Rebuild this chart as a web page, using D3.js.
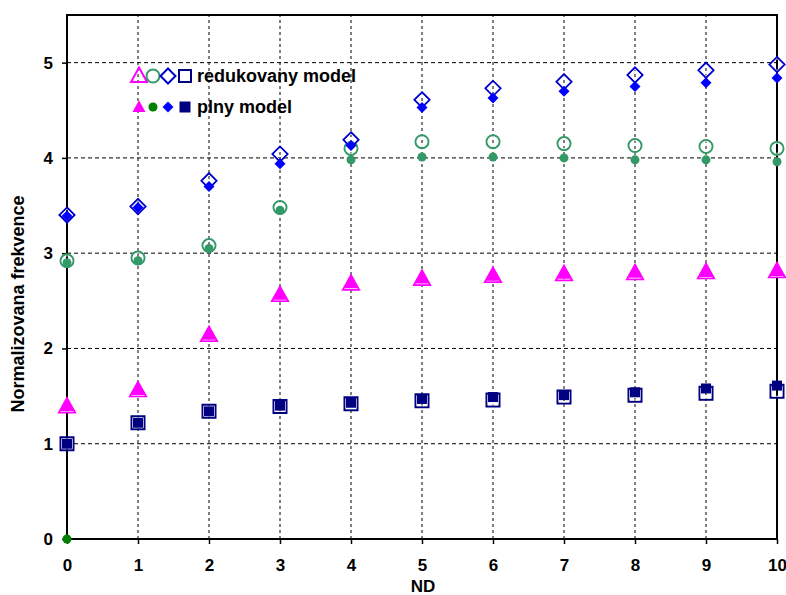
<!DOCTYPE html>
<html>
<head>
<meta charset="utf-8">
<script src="https://cdn.jsdelivr.net/npm/d3@7"></script>
<style>
  body { margin: 0; background: #fff; }
  text { font-family: "Liberation Sans", Arial, sans-serif; font-weight: bold; }
</style>
</head>
<body>
<script>
// ND values on the x axis
const nd = [0, 1, 2, 3, 4, 5, 6, 7, 8, 9, 10];

// reduced model (open markers)
const redTriangle = [1.39, 1.56, 2.14, 2.56, 2.68, 2.73, 2.76, 2.78, 2.79, 2.80, 2.81];
const redCircle   = [2.92, 2.95, 3.08, 3.48, 4.10, 4.17, 4.17, 4.15, 4.13, 4.12, 4.10];
const redDiamond  = [3.40, 3.49, 3.76, 4.04, 4.19, 4.61, 4.73, 4.80, 4.87, 4.92, 4.98];
const redSquare   = [1.00, 1.22, 1.34, 1.39, 1.42, 1.45, 1.46, 1.49, 1.51, 1.53, 1.55];

// full model (filled markers)
const fullTriangle = [1.40, 1.57, 2.15, 2.57, 2.69, 2.74, 2.77, 2.79, 2.80, 2.81, 2.82];
const fullCircle   = [2.90, 2.92, 3.05, 3.45, 3.98, 4.01, 4.01, 4.00, 3.98, 3.98, 3.96];
const fullDiamond  = [3.39, 3.48, 3.70, 3.94, 4.13, 4.53, 4.63, 4.70, 4.75, 4.79, 4.84];
const fullSquare   = [1.00, 1.22, 1.34, 1.40, 1.43, 1.47, 1.49, 1.51, 1.54, 1.58, 1.61];

// lone point at the origin
const originPoint = [{ x: 0, y: 0 }];

const xTicks = [0, 1, 2, 3, 4, 5, 6, 7, 8, 9, 10];
const yTicks = [0, 1, 2, 3, 4, 5];

const width = 786, height = 595;
const margin = { top: 15, left: 67, right: 9, bottom: 56 };

const svg = d3.select('body').append('svg')
    .attr('width', width)
    .attr('height', height);

const x = d3.scaleLinear().domain([0, 10]).range([margin.left, width - margin.right]);
const y = d3.scaleLinear().domain([0, 5.5]).range([height - margin.bottom, margin.top]);

// grid
svg.append('g').selectAll('line')
    .data(yTicks.filter(d => d > 0))
    .enter().append('line')
    .attr('x1', x(0)).attr('x2', x(10))
    .attr('y1', d => y(d)).attr('y2', d => y(d))
    .attr('stroke', '#000').attr('stroke-width', 1)
    .attr('stroke-dasharray', '4,3');

svg.append('g').selectAll('line')
    .data(xTicks.filter(d => d > 0 && d < 10))
    .enter().append('line')
    .attr('y1', y(0)).attr('y2', y(5.5))
    .attr('x1', d => x(d)).attr('x2', d => x(d))
    .attr('stroke', '#000').attr('stroke-width', 1)
    .attr('stroke-dasharray', '3,3');

// axes
const xAxis = svg.append('g')
    .attr('transform', `translate(0,${y(0)})`)
    .call(d3.axisBottom(x).tickValues(xTicks).tickFormat(d3.format('d')).tickSize(5).tickPadding(15));
const yAxis = svg.append('g')
    .attr('transform', `translate(${x(0)},0)`)
    .call(d3.axisLeft(y).tickValues(yTicks).tickFormat(d3.format('d')).tickSize(5).tickPadding(9));

[xAxis, yAxis].forEach(ax => {
    ax.select('.domain').remove();
    ax.selectAll('line').attr('stroke', '#000').attr('stroke-width', 1.5);
    ax.selectAll('text')
        .attr('fill', '#000')
        .style('font-size', '17px')
        .style('font-family', '"Liberation Sans", Arial, sans-serif')
        .style('font-weight', 'bold');
});

// frame
svg.append('rect')
    .attr('x', x(0)).attr('y', y(5.5))
    .attr('width', x(10) - x(0)).attr('height', y(0) - y(5.5))
    .attr('fill', 'none').attr('stroke', '#000').attr('stroke-width', 2);

// axis titles
svg.append('text')
    .attr('x', (x(0) + x(10)) / 2 + 1).attr('y', 592)
    .attr('text-anchor', 'middle')
    .style('font-size', '17px')
    .text('ND');

svg.append('text')
    .attr('transform', 'translate(24,304) rotate(-90)')
    .attr('text-anchor', 'middle')
    .style('font-size', '18px')
    .text('Normalizovana frekvence');

// marker shapes, r = half size
const shapes = {
    square: r => `M${-r},${-r}h${2 * r}v${2 * r}h${-2 * r}Z`,
    diamond: r => `M0,${-r}L${r},0L0,${r}L${-r},0Z`,
    triangle: r => `M0,${-r * 1.05}L${r},${r * 0.75}L${-r},${r * 0.75}Z`,
    circle: r => `M${r},0A${r},${r} 0 1,1 ${-r},0A${r},${r} 0 1,1 ${r},0Z`
};

function drawOpen(g, shape, r, color) {
    g.append('path').attr('d', shapes[shape](r))
        .attr('fill', 'none').attr('stroke', color).attr('stroke-width', 2);
    g.append('path').attr('d', shapes[shape](r - 1.6))
        .attr('fill', 'none').attr('stroke', '#fff').attr('stroke-width', 0.8);
}

function drawFilled(g, shape, r, color) {
    g.append('path').attr('d', shapes[shape](r)).attr('fill', color);
}

const openSeries = [
    { values: redSquare, shape: 'square', r: 6.5, color: '#000080' },
    { values: redTriangle, shape: 'triangle', r: 8, color: '#ff00ff' },
    { values: redCircle, shape: 'circle', r: 6.5, color: '#339966' },
    { values: redDiamond, shape: 'diamond', r: 7.5, color: '#0000cc' }
];
const filledSeries = [
    { values: fullSquare, shape: 'square', r: 5, color: '#000080' },
    { values: fullTriangle, shape: 'triangle', r: 7.5, color: '#ff00ff' },
    { values: fullCircle, shape: 'circle', r: 4.5, color: '#339966' },
    { values: fullDiamond, shape: 'diamond', r: 5.5, color: '#0000ff' }
];

openSeries.forEach(s => {
    svg.append('g').selectAll('g')
        .data(nd.map((n, i) => ({ x: n, y: s.values[i] })))
        .enter().append('g')
        .attr('transform', d => `translate(${x(d.x)},${y(d.y)})`)
        .each(function () { drawOpen(d3.select(this), s.shape, s.r, s.color); });
});

filledSeries.forEach(s => {
    svg.append('g').selectAll('g')
        .data(nd.map((n, i) => ({ x: n, y: s.values[i] })))
        .enter().append('g')
        .attr('transform', d => `translate(${x(d.x)},${y(d.y)})`)
        .each(function () { drawFilled(d3.select(this), s.shape, s.r, s.color); });
});

svg.append('g').selectAll('circle')
    .data(originPoint)
    .enter().append('circle')
    .attr('cx', d => x(d.x)).attr('cy', d => y(d.y))
    .attr('r', 4.5).attr('fill', '#008000');

// legend
const legend = svg.append('g');
const legOpen = [
    { shape: 'triangle', r: 8, color: '#ff00ff', cx: 139 },
    { shape: 'circle', r: 6.5, color: '#339966', cx: 153 },
    { shape: 'diamond', r: 7.5, color: '#0000cc', cx: 168 },
    { shape: 'square', r: 6, color: '#000080', cx: 185 }
];
const legFilled = [
    { shape: 'triangle', r: 6.5, color: '#ff00ff', cx: 139 },
    { shape: 'circle', r: 4.5, color: '#008000', cx: 153 },
    { shape: 'diamond', r: 5.5, color: '#0000ff', cx: 168 },
    { shape: 'square', r: 5.5, color: '#000080', cx: 185 }
];
legOpen.forEach(m => {
    const g = legend.append('g').attr('transform', `translate(${m.cx},76)`);
    g.append('path').attr('d', shapes[m.shape](m.r))
        .attr('fill', 'none').attr('stroke', m.color).attr('stroke-width', 2);
});
legFilled.forEach(m => {
    const g = legend.append('g').attr('transform', `translate(${m.cx},107)`);
    g.append('path').attr('d', shapes[m.shape](m.r)).attr('fill', m.color);
});
legend.append('text').attr('x', 197).attr('y', 82)
    .style('font-size', '18px').text('redukovany model');
legend.append('text').attr('x', 197).attr('y', 113)
    .style('font-size', '18px').text('plny model');
</script>
</body>
</html>
